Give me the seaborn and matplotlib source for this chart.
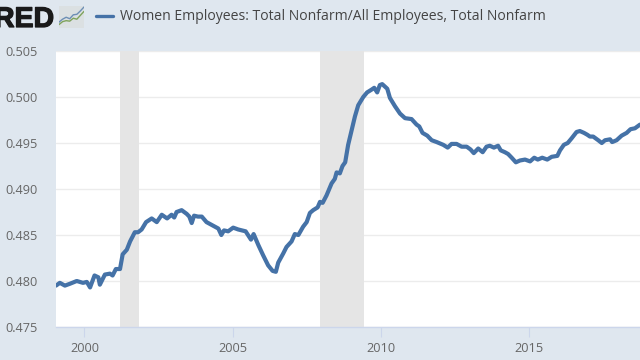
import matplotlib
matplotlib.use('Agg')
import matplotlib.pyplot as plt
import matplotlib.patheffects as pe
import seaborn as sns
import pandas as pd

# ratio
years = [1999.04, 1999.17, 1999.34, 1999.51, 1999.74, 1999.95, 2000.08, 2000.19, 2000.34, 2000.47,
         2000.52, 2000.69, 2000.86, 2000.95, 2001.06, 2001.20, 2001.29, 2001.43, 2001.54, 2001.70,
         2001.81, 2001.93, 2002.08, 2002.27, 2002.44, 2002.61, 2002.79, 2002.94, 2003.03, 2003.11,
         2003.28, 2003.45, 2003.54, 2003.62, 2003.70, 2003.83, 2003.96, 2004.12, 2004.35, 2004.52,
         2004.62, 2004.71, 2004.85, 2005.02, 2005.19, 2005.44, 2005.62, 2005.71, 2005.87, 2006.03,
         2006.20, 2006.35, 2006.46, 2006.54, 2006.71, 2006.82, 2006.99, 2007.10, 2007.22, 2007.38,
         2007.50, 2007.61, 2007.72, 2007.87, 2007.95, 2008.04, 2008.17, 2008.34, 2008.45, 2008.51,
         2008.62, 2008.71, 2008.80, 2008.90, 2009.02, 2009.13, 2009.24, 2009.41, 2009.54, 2009.69,
         2009.78, 2009.88, 2009.97, 2010.05, 2010.22, 2010.31, 2010.48, 2010.65, 2010.82, 2011.04,
         2011.21, 2011.30, 2011.41, 2011.57, 2011.72, 2011.89, 2012.11, 2012.26, 2012.39, 2012.56,
         2012.73, 2012.90, 2013.03, 2013.14, 2013.29, 2013.44, 2013.57, 2013.68, 2013.82, 2013.96,
         2014.05, 2014.19, 2014.30, 2014.42, 2014.56, 2014.70, 2014.87, 2015.04, 2015.18, 2015.30,
         2015.45, 2015.62, 2015.77, 2015.96, 2016.05, 2016.18, 2016.31, 2016.44, 2016.61, 2016.72,
         2016.86, 2016.97, 2017.06, 2017.17, 2017.34, 2017.46, 2017.57, 2017.74, 2017.81, 2017.96,
         2018.13, 2018.30, 2018.43, 2018.58, 2018.75]
ratio = [.4795, .4798, .4795, .4797, .4800, .4798, .4799, .4793, .4806, .4804,
         .4796, .4807, .4808, .4806, .4813, .4813, .4829, .4834, .4843, .4853,
         .4853, .4856, .4864, .4868, .4864, .4872, .4868, .4872, .4869, .4875,
         .4877, .4873, .4870, .4863, .4871, .4870, .4870, .4864, .4860, .4857,
         .4850, .4855, .4854, .4858, .4856, .4854, .4845, .4851, .4839, .4828,
         .4817, .4811, .4810, .4820, .4830, .4837, .4843, .4851, .4850, .4859,
         .4864, .4874, .4877, .4880, .4886, .4885, .4893, .4906, .4911, .4918,
         .4917, .4925, .4929, .4948, .4964, .4979, .4991, .5000, .5005, .5008,
         .5010, .5005, .5013, .5014, .5009, .4999, .4990, .4982, .4977, .4976,
         .4970, .4968, .4961, .4958, .4953, .4951, .4948, .4945, .4949, .4949,
         .4946, .4946, .4943, .4939, .4944, .4940, .4946, .4947, .4945, .4947,
         .4942, .4940, .4938, .4934, .4929, .4931, .4932, .4930, .4934, .4932,
         .4934, .4932, .4935, .4936, .4942, .4948, .4950, .4955, .4962, .4963,
         .4961, .4959, .4957, .4957, .4953, .4950, .4953, .4954, .4951, .4953,
         .4958, .4961, .4965, .4966, .4970]

rec_start = [2001.20, 2007.95]
rec_end = [2001.84, 2009.42]
x_ticks = [2000, 2005, 2010, 2015]
y_ticks = [0.475, 0.480, 0.485, 0.490, 0.495, 0.500, 0.505]
title = 'Women Employees: Total Nonfarm/All Employees, Total Nonfarm'

# small logo chart
icon_x = [0, 1, 2, 3, 4, 5, 6, 7]
icon_blue = [2.4, 3.6, 4.4, 3.8, 5.4, 5.6, 7.0, 8.6]
icon_green = [1.4, 2.6, 3.0, 2.8, 4.0, 3.6, 5.2, 6.8]

bg = '#dfe7ef'
line_col = '#4572a7'

sns.set_theme(style='white')
plt.rcParams['font.family'] = ['Open Sans', 'DejaVu Sans']

fig = plt.figure(figsize=(6.4, 3.6), dpi=100, facecolor=bg)
ax = fig.add_axes([56 / 640, 33 / 360, 584 / 640, 276 / 360])
ax.set_facecolor('white')

for a, b in zip(rec_start, rec_end):
    ax.axvspan(a, b, color='#e5e5e5', lw=0, zorder=1.5)

df = pd.DataFrame({'year': years, 'ratio': ratio})
sns.lineplot(data=df, x='year', y='ratio', estimator=None, sort=False, color=line_col,
             lw=3, ax=ax, zorder=3, legend=False)

ax.set_xlim(1999.04, 2018.75)
ax.set_ylim(0.475, 0.505)
ax.set_xticks(x_ticks)
ax.set_yticks(y_ticks)
ax.set_yticklabels(['%.3f' % v for v in y_ticks])
ax.set_xlabel('')
ax.set_ylabel('')
ax.set_axisbelow(True)
ax.grid(axis='y', color='#ececec', lw=1)
ax.grid(axis='x', visible=False)
for s in ['top', 'right', 'left']:
    ax.spines[s].set_visible(False)
ax.spines['bottom'].set_color('#ccd6eb')
ax.spines['bottom'].set_linewidth(1)
ax.tick_params(axis='x', bottom=True, length=7.5, width=0.8, color='#ccd6eb', labelsize=9.2,
               labelcolor='#666666', pad=3)
ax.tick_params(axis='y', left=False, length=0, labelsize=9.2, labelcolor='#666666', pad=13)

# header strip
fig.text(54 / 640, 1 - 27 / 360, 'RED', ha='right', va='baseline', fontsize=20.5, fontweight='bold',
         color='#1a1a1a', family='Liberation Sans',
         path_effects=[pe.withStroke(linewidth=0.9, foreground='#1a1a1a')])
fig.add_artist(plt.Line2D([96 / 640, 113 / 640], [1 - 16 / 360] * 2, color=line_col, lw=2.4))
fig.text(119.5 / 640, 1 - 16.5 / 360, title, ha='left', va='center', fontsize=10.1, color='#444444')

icon = fig.add_axes([59 / 640, 1 - 28 / 360, 25 / 640, 22 / 360])
sns.lineplot(x=icon_x, y=icon_blue, color='#6d8fb5', lw=1.0, ax=icon, estimator=None)
sns.lineplot(x=icon_x, y=icon_green, color='#7fa35c', lw=1.0, ax=icon, estimator=None)
icon.set_xlim(0, 7)
icon.set_ylim(0, 9)
icon.set_xticks([])
icon.set_yticks([])
icon.set_xlabel('')
icon.set_ylabel('')
icon.set_facecolor('#dbe0e2')
for s in icon.spines.values():
    s.set_visible(False)

fig.savefig('out.png', dpi=100, facecolor=bg)
